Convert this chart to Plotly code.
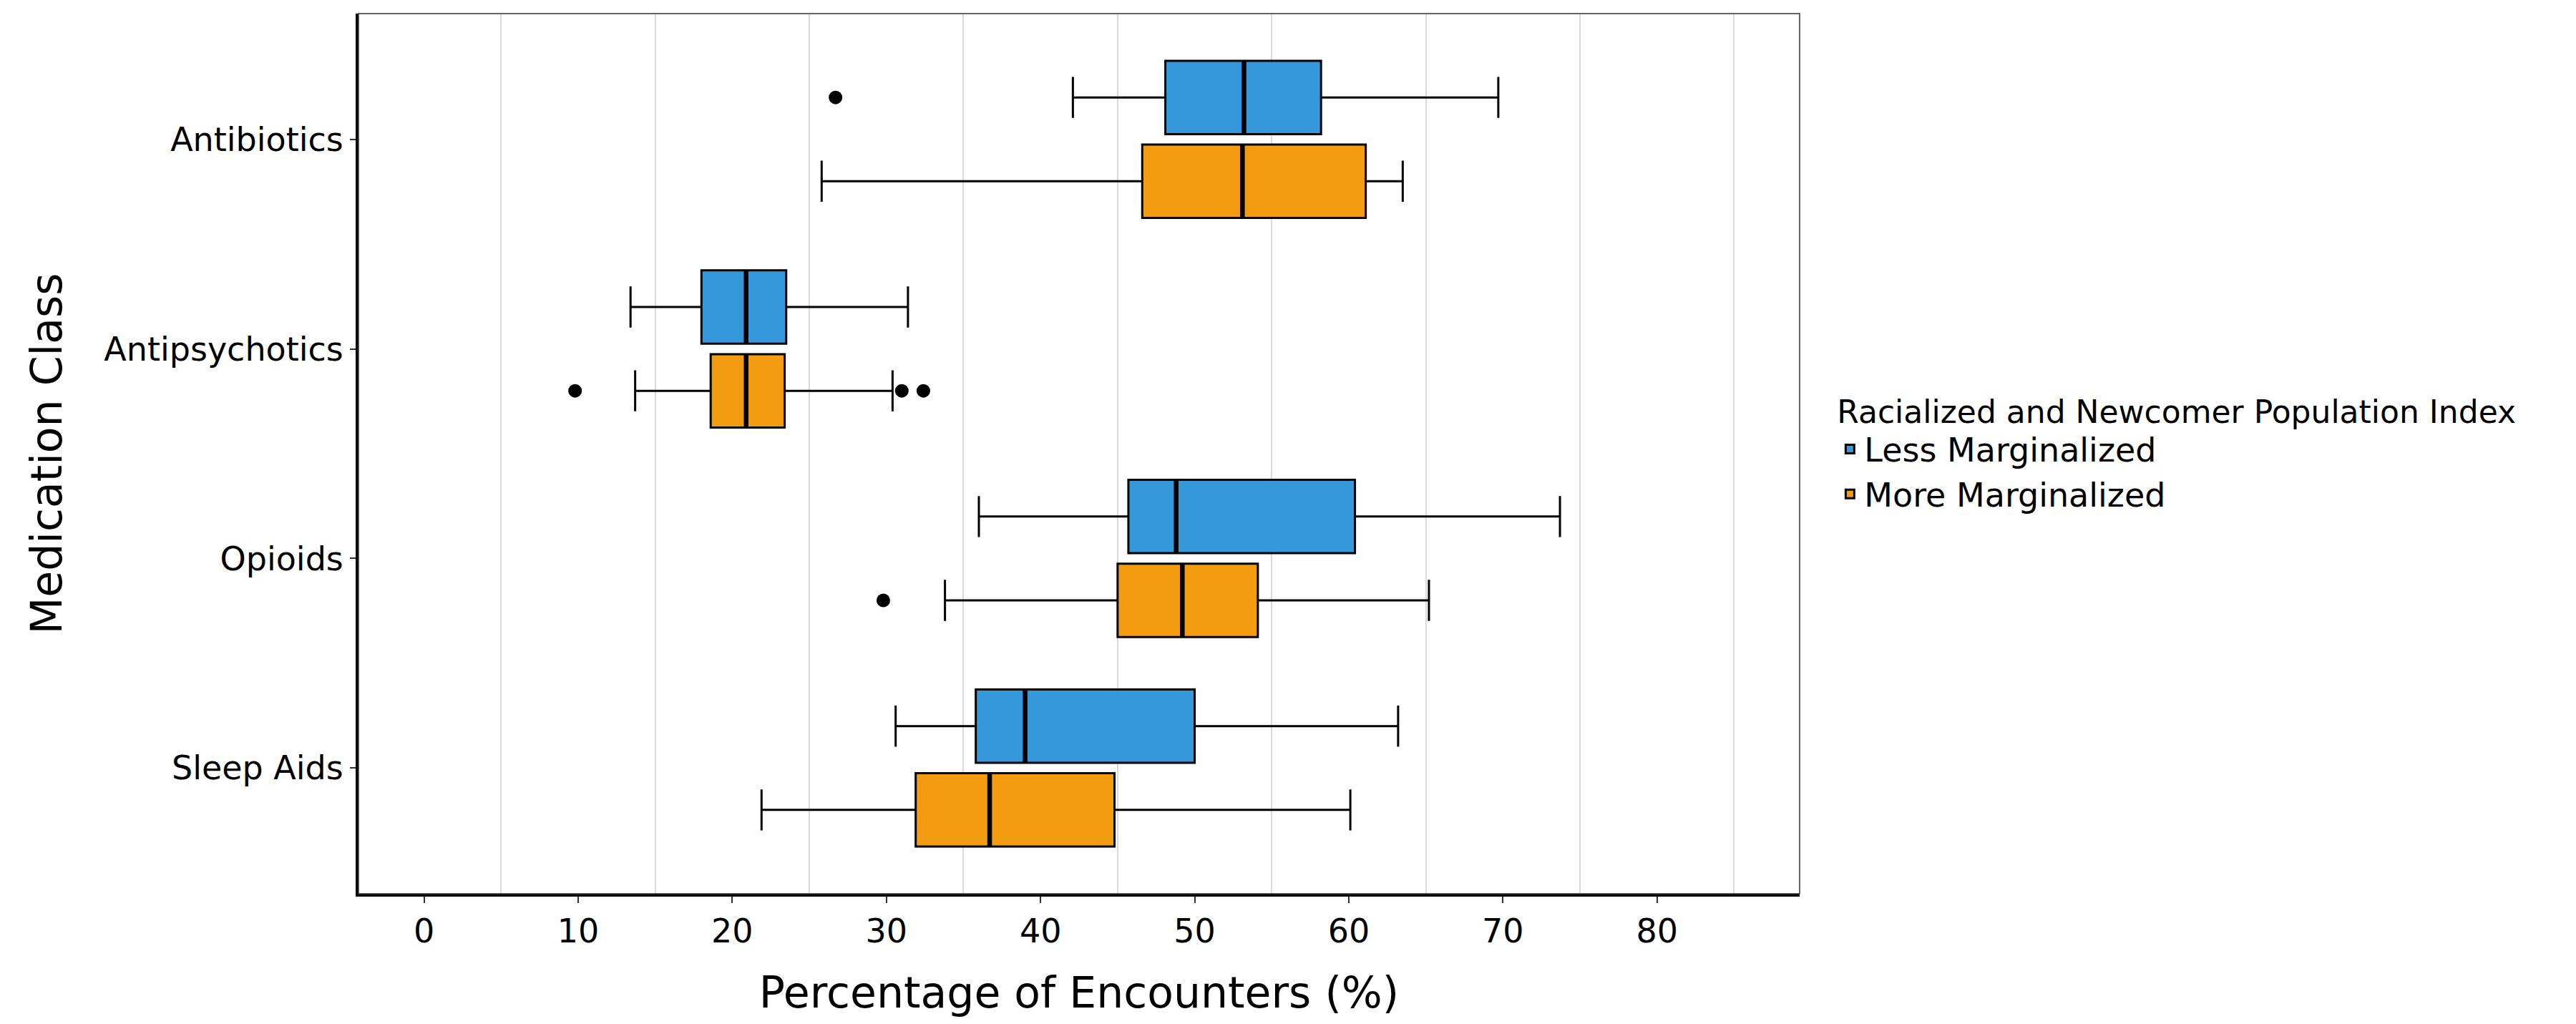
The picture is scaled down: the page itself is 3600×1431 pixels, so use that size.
import plotly.graph_objects as go

categories = ["Antibiotics", "Antipsychotics", "Opioids", "Sleep Aids"]
groups = ["Less Marginalized", "More Marginalized"]
colors = ["#3498DB", "#F39C12"]

less_lower = [42.1, 13.4, 36.0, 30.6]
less_q1 = [48.1, 18.0, 45.7, 35.8]
less_median = [53.2, 20.9, 48.8, 39.0]
less_q3 = [58.2, 23.5, 60.4, 50.0]
less_upper = [69.7, 31.4, 73.7, 63.2]
less_outliers = [[26.7], [], [], []]

more_lower = [25.8, 13.7, 33.8, 21.9]
more_q1 = [46.6, 18.6, 45.0, 31.9]
more_median = [53.1, 20.9, 49.2, 36.7]
more_q3 = [61.1, 23.4, 54.1, 44.8]
more_upper = [63.5, 30.4, 65.2, 60.1]
more_outliers = [[], [9.8, 31.0, 32.4], [29.8], []]

x_ticks = [0, 10, 20, 30, 40, 50, 60, 70, 80]

FONT = "DejaVu Sans"
n = len(categories)
base = [n - i for i in range(n)]          # Antibiotics on top
offsets = [0.2, -0.2]                      # dodge
box_w = 0.35

stats = [
    (less_lower, less_q1, less_median, less_q3, less_upper, less_outliers),
    (more_lower, more_q1, more_median, more_q3, more_upper, more_outliers),
]

fig = go.Figure()
for g, (lo, q1, med, q3, up, outl) in enumerate(stats):
    pos = [b + offsets[g] for b in base]
    fig.add_trace(go.Box(
        orientation="h",
        y=pos, q1=q1, median=med, q3=q3, lowerfence=lo, upperfence=up,
        width=box_w, whiskerwidth=0.56,
        fillcolor=colors[g],
        line=dict(color="black", width=3),
        name=groups[g], legendgroup=groups[g], showlegend=True,
        hoverinfo="skip",
    ))
    # thicker median segments
    mx, my = [], []
    for p, m in zip(pos, med):
        mx += [m, m, None]
        my += [p - box_w / 2, p + box_w / 2, None]
    fig.add_trace(go.Scatter(
        x=mx, y=my, mode="lines", line=dict(color="black", width=6.5),
        showlegend=False, hoverinfo="skip", legendgroup=groups[g],
    ))
    # outliers
    ox, oy = [], []
    for p, vals in zip(pos, outl):
        for v in vals:
            ox.append(v)
            oy.append(p)
    fig.add_trace(go.Scatter(
        x=ox, y=oy, mode="markers",
        marker=dict(color="black", size=19),
        showlegend=False, hoverinfo="skip", legendgroup=groups[g],
    ))

fig.update_layout(
    width=3600, height=1431,
    margin=dict(l=501, r=1085, t=19, b=182),
    paper_bgcolor="white", plot_bgcolor="white",
    font=dict(family=FONT, color="black", size=46),
    showlegend=True,
    legend=dict(
        x=1.025, xanchor="left", y=0.503, yanchor="middle",
        title=dict(text="Racialized and Newcomer Population Index",
                   font=dict(size=44, family=FONT)),
        font=dict(size=46, family=FONT),
        traceorder="normal",
        bgcolor="rgba(0,0,0,0)",
    ),
    xaxis=dict(
        range=[-4.25, 89.25],
        tickvals=x_ticks, ticktext=[str(v) for v in x_ticks],
        ticks="outside", ticklen=9, tickwidth=2, tickcolor="#333333",
        tickfont=dict(size=46, family=FONT),
        showgrid=False, zeroline=False,
        showline=True, linecolor="black", linewidth=4,
        minor=dict(tick0=5, dtick=10, showgrid=True,
                   gridcolor="#DADADA", gridwidth=1.5, ticks=""),
        title=dict(text="Percentage of Encounters (%)",
                   font=dict(size=60, family=FONT), standoff=40),
    ),
    yaxis=dict(
        range=[0.4, n + 0.6],
        tickvals=base, ticktext=categories,
        ticks="outside", ticklen=8, tickwidth=2, tickcolor="#333333",
        tickfont=dict(size=46, family=FONT),
        showgrid=False, zeroline=False,
        showline=True, linecolor="black", linewidth=4,
        title=dict(text="Medication Class",
                   font=dict(size=60, family=FONT), standoff=40),
    ),
    shapes=[dict(type="rect", xref="paper", yref="paper",
                 x0=0, x1=1, y0=0, y1=1,
                 line=dict(color="#333333", width=1.5), layer="above")],
)

fig.write_html("out.html")
